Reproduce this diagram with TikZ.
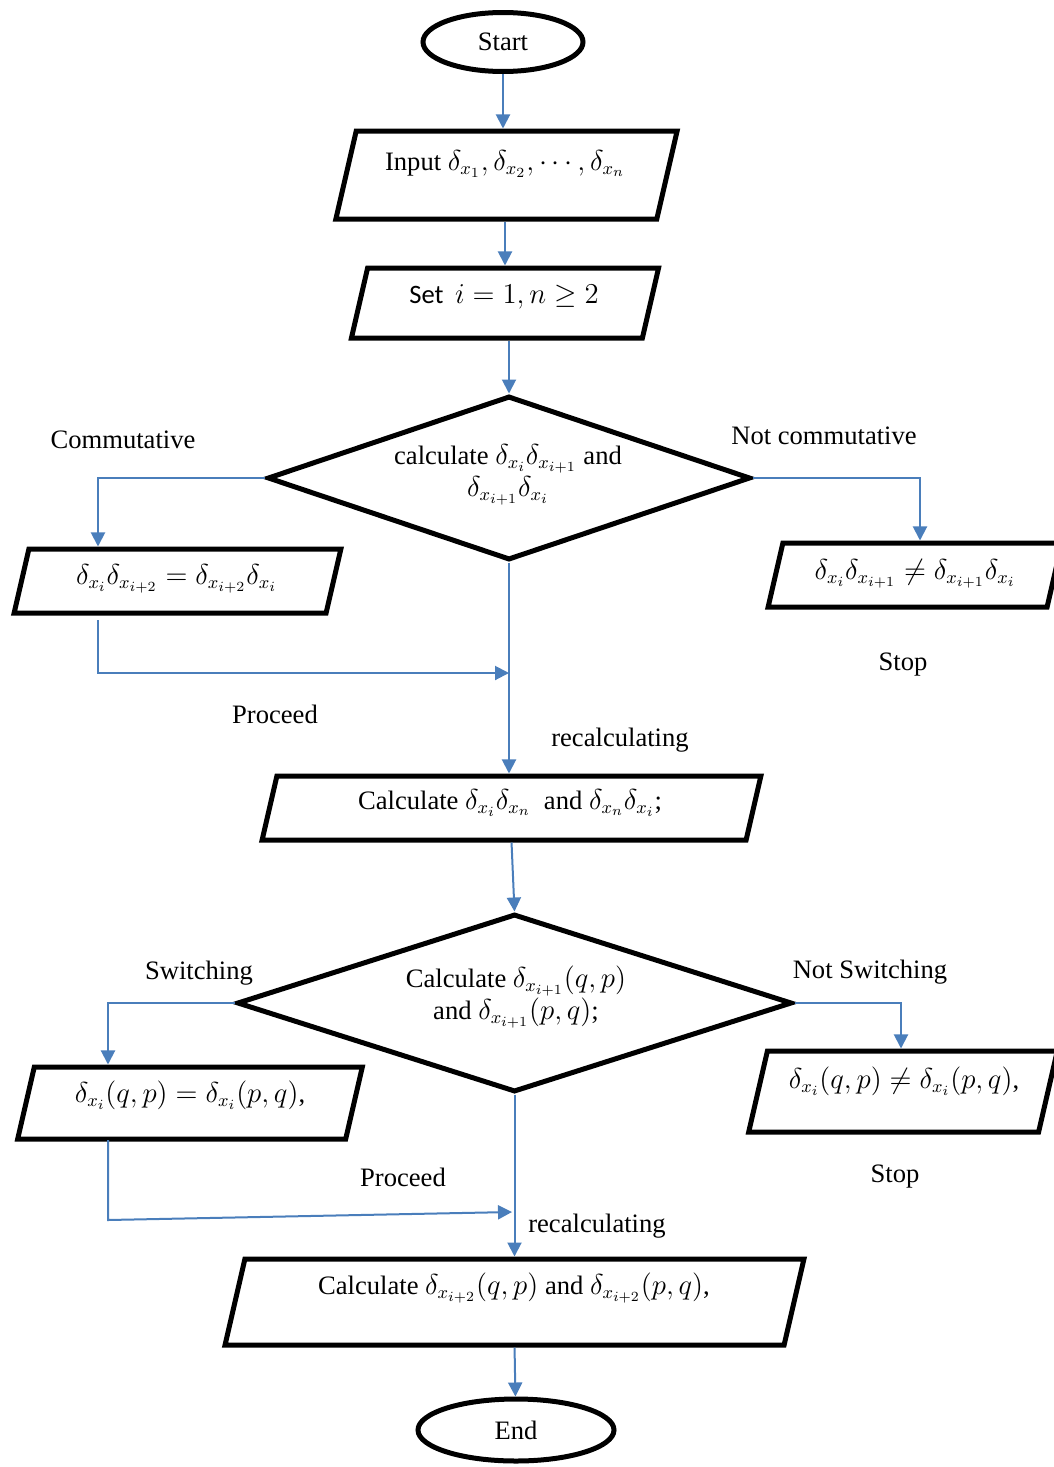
\documentclass[tikz,border=0pt]{standalone}
\usepackage{fontspec}
\setmainfont{Liberation Serif}
\newfontfamily\calibri{Carlito}
\usetikzlibrary{shapes.geometric,arrows.meta,positioning}
\definecolor{flow}{RGB}{74,126,187}

\begin{document}
\begin{tikzpicture}[x=0.5pt, y=-0.5pt,
    font=\fontsize{13.3}{16}\selectfont,
    term/.style={ellipse, draw, line width=2.5pt, inner sep=0pt},
    io/.style 2 args={trapezium, trapezium left angle=77, trapezium right angle=103, draw, line width=2.5pt, inner sep=0pt, text width=#1, text height=#2, text depth=0pt},
    decision/.style={diamond, draw, line width=2.5pt, inner sep=0pt},
    txt/.style={align=center, inner sep=1pt},
    lbl/.style={inner sep=1pt},
    arrow/.style={-{Triangle[length=7pt,width=7pt]}, line width=1pt, draw=flow},
]
\useasboundingbox (0,0) rectangle (1054,1467);

% === TOP PART ===
\node[term, minimum width=80pt, minimum height=29.5pt] (start) at (503,42) {Start};
\node[io={150.3pt}{44pt}] (inp) at (506.5,175) {};
\node[txt] (inp_t) at (505,164) {Input $\delta_{x_1},\delta_{x_2},\cdots,\delta_{x_n}$};
\node[io={137.4pt}{35pt}] (set) at (505,303) {};
\node[txt] (set_t) at (504,297) {{\calibri Set} $\,i=1, n\geq 2$};

% === FIRST TEST ===
\node[decision, minimum width=241.5pt, minimum height=82pt] (dia1) at (509,478) {};
\node[txt] (dia1_t) at (508,475) {calculate $\delta_{x_i}\delta_{x_{i+1}}$ and\\$\delta_{x_{i+1}}\delta_{x_i}$};
\node[io={148.6pt}{32pt}] (comm) at (177.5,581) {};
\node[txt] (comm_t) at (176.5,579) {$\delta_{x_i}\delta_{x_{i+2}}=\delta_{x_{i+2}}\delta_{x_i}$};
\node[io={132.1pt}{32pt}] (ncomm) at (915,575) {};
\node[txt] (ncomm_t) at (915,574) {$\delta_{x_i}\delta_{x_{i+1}}\neq\delta_{x_{i+1}}\delta_{x_i}$};
\node[io={234.6pt}{32pt}] (calc) at (511.5,808) {};
\node[txt] (calc_t) at (510,803) {Calculate $\delta_{x_i}\delta_{x_n}$~ and $\delta_{x_n}\delta_{x_i}$;};

% === SECOND TEST ===
\node[decision, minimum width=277.5pt, minimum height=89pt] (dia2) at (514.5,1003) {};
\node[txt] (dia2_t) at (516,997) {Calculate $\delta_{x_{i+1}}(q,p)$\\and $\delta_{x_{i+1}}(p,q)$;};
\node[io={155.7pt}{36pt}] (sw) at (190,1103) {};
\node[txt] (sw_t) at (190,1095) {$\delta_{x_i}(q,p)=\delta_{x_i}(p,q)$,};
\node[io={135.6pt}{40.5pt}] (nsw) at (903,1091.5) {};
\node[txt] (nsw_t) at (904,1081) {$\delta_{x_i}(q,p)\neq\delta_{x_i}(p,q)$,};
\node[io={269.6pt}{43pt}] (fin) at (514.5,1302) {};
\node[txt] (fin_t) at (514,1288) {Calculate $\delta_{x_{i+2}}(q,p)$ and $\delta_{x_{i+2}}(p,q)$,};
\node[term, minimum width=98pt, minimum height=31pt] (end) at (516,1430) {End};

% === LABELS ===
\node[lbl] (l_comm) at (123,440) {Commutative};
\node[lbl] (l_ncomm) at (824,436) {Not commutative};
\node[lbl] (l_stop1) at (903,665) {Stop};
\node[lbl] (l_proc1) at (275,714) {Proceed};
\node[lbl] (l_rec1) at (620,740) {recalculating};
\node[lbl] (l_sw) at (199,973) {Switching};
\node[lbl] (l_nsw) at (870,972) {Not Switching};
\node[lbl] (l_proc2) at (403,1177) {Proceed};
\node[lbl] (l_stop2) at (895,1177) {Stop};
\node[lbl] (l_rec2) at (597,1226) {recalculating};

% === BENDS ===
\coordinate (cl1) at (98,478);
\coordinate (cr1) at (920,478);
\coordinate (pa) at (98,620);
\coordinate (pb) at (98,673);
\coordinate (cl2) at (108,1003);
\coordinate (cr2) at (901,1003);
\coordinate (qa) at (108,1140);
\coordinate (qb) at (108,1220);
\coordinate (qc) at (512,1212);

% === ARROWS ===
\draw[arrow] (start) -- (start |- inp.north);
\draw[arrow] (inp_t |- inp.south) -- (inp_t |- set.north);
\draw[arrow] (set.south -| dia1.north) -- (dia1.north);
\draw[arrow] (dia1.west) -- (cl1) -- (cl1 |- comm.north);
\draw[arrow] (dia1.east) -- (cr1) -- (cr1 |- ncomm.north);
\draw[arrow] (pa) -- (pb) -- (dia1.south |- pb);
\draw[arrow] (dia1.south) -- (dia1.south |- calc.north);
\draw[arrow] (calc.south) -- (dia2.north);
\draw[arrow] (dia2.west) -- (cl2) -- (cl2 |- sw.north);
\draw[arrow] (dia2.east) -- (cr2) -- (cr2 |- nsw.north);
\draw[arrow] (qa) -- (qb) -- (qc);
\draw[arrow] (dia2.south) -- (dia2.south |- fin.north);
\draw[arrow] (fin.south) -- (end);

\end{tikzpicture}
\end{document}
